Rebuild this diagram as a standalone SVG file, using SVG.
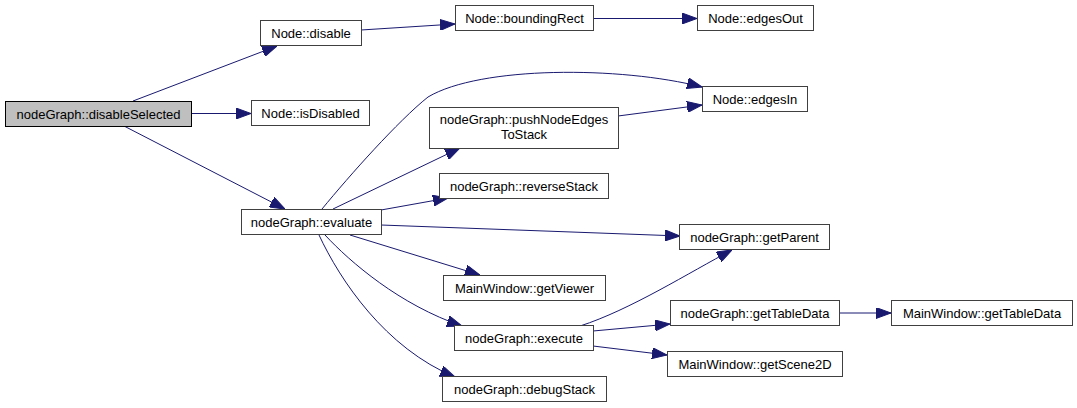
<svg xmlns="http://www.w3.org/2000/svg" width="1077" height="408" viewBox="0 0 1077 408">
<style>
.n rect{fill:#ffffff;stroke:#404040;stroke-width:1}
.n.sel rect{fill:#bfbfbf;stroke:#000000}
.n text{font-family:"Liberation Sans",Arial,sans-serif;font-size:13px;fill:#000000;text-anchor:middle}
.e path{fill:none;stroke:#191970;stroke-width:1}
</style>
<defs>
<marker id="ah" markerUnits="userSpaceOnUse" markerWidth="15" markerHeight="11" refX="15" refY="5.5" orient="auto" viewBox="0 0 15 11">
<path d="M0,0 L15,5.5 L0,11 z" fill="#191970" stroke="#191970" stroke-width="1"/>
</marker>
</defs>
<rect width="1077" height="408" fill="#ffffff"/>
<g id="connectors" class="e">
<path marker-end="url(#ah)" d="M133,101 L277,46"/>
<path marker-end="url(#ah)" d="M191,113.5 L251,113.5"/>
<path marker-end="url(#ah)" d="M124,126 L285,209"/>
<path marker-end="url(#ah)" d="M361,30 L455,24"/>
<path marker-end="url(#ah)" d="M593,18.5 L697,18.5"/>
<path marker-end="url(#ah)" d="M322,209 C350,175 398,121 428,97 C480,66 620,66 702,87"/>
<path marker-end="url(#ah)" d="M618,116 L702,105"/>
<path marker-end="url(#ah)" d="M333,209 L460,148"/>
<path marker-end="url(#ah)" d="M381,210 L448,198"/>
<path marker-end="url(#ah)" d="M381,225 L680,236"/>
<path marker-end="url(#ah)" d="M350,235 L480,275"/>
<path marker-end="url(#ah)" d="M325,235 C350,262 400,305 462,326"/>
<path marker-end="url(#ah)" d="M319,235 C340,280 385,348 455,377"/>
<path marker-end="url(#ah)" d="M580,326 C630,310 690,272 732,250"/>
<path marker-end="url(#ah)" d="M593,331 L670,324"/>
<path marker-end="url(#ah)" d="M593,346 L667,355"/>
<path marker-end="url(#ah)" d="M839,313 L891,313"/>
</g>
<g id="disableSelected" class="n sel"><rect x="5.5" y="101.5" width="186" height="25"/><text x="98.5" y="118.5">nodeGraph::disableSelected</text></g>
<g id="NodeDisable" class="n"><rect x="260.5" y="20.5" width="101" height="25"/><text x="311" y="37.5">Node::disable</text></g>
<g id="NodeIsDisabled" class="n"><rect x="251.5" y="100.5" width="118" height="25"/><text x="310.5" y="117.5">Node::isDisabled</text></g>
<g id="evaluate" class="n"><rect x="241.5" y="209.5" width="140" height="25"/><text x="311.5" y="226.5">nodeGraph::evaluate</text></g>
<g id="boundingRect" class="n"><rect x="455.5" y="5.5" width="138" height="25"/><text x="524.5" y="22.5">Node::boundingRect</text></g>
<g id="edgesOut" class="n"><rect x="697.5" y="5.5" width="116" height="25"/><text x="755.5" y="22.5">Node::edgesOut</text></g>
<g id="edgesIn" class="n"><rect x="702.5" y="86.5" width="105" height="25"/><text x="755" y="103.5">Node::edgesIn</text></g>
<g id="pushNodeEdgesToStack" class="n"><rect x="429.5" y="107.5" width="189" height="41"/><text x="524" y="123.5">nodeGraph::pushNodeEdges</text><text x="524" y="139">ToStack</text></g>
<g id="reverseStack" class="n"><rect x="439.5" y="173.5" width="169" height="25"/><text x="524" y="190.5">nodeGraph::reverseStack</text></g>
<g id="getParent" class="n"><rect x="679.5" y="224.5" width="150" height="25"/><text x="754.5" y="241.5">nodeGraph::getParent</text></g>
<g id="getViewer" class="n"><rect x="443.5" y="275.5" width="162" height="25"/><text x="524.5" y="292.5">MainWindow::getViewer</text></g>
<g id="execute" class="n"><rect x="454.5" y="325.5" width="139" height="25"/><text x="524" y="342.5">nodeGraph::execute</text></g>
<g id="debugStack" class="n"><rect x="442.5" y="376.5" width="164" height="25"/><text x="524.5" y="393.5">nodeGraph::debugStack</text></g>
<g id="getTableData" class="n"><rect x="670.5" y="300.5" width="169" height="25"/><text x="755" y="317.5">nodeGraph::getTableData</text></g>
<g id="MWgetTableData" class="n"><rect x="891.5" y="300.5" width="181" height="25"/><text x="982" y="317.5">MainWindow::getTableData</text></g>
<g id="getScene2D" class="n"><rect x="667.5" y="351.5" width="175" height="25"/><text x="755" y="368.5">MainWindow::getScene2D</text></g>
</svg>
